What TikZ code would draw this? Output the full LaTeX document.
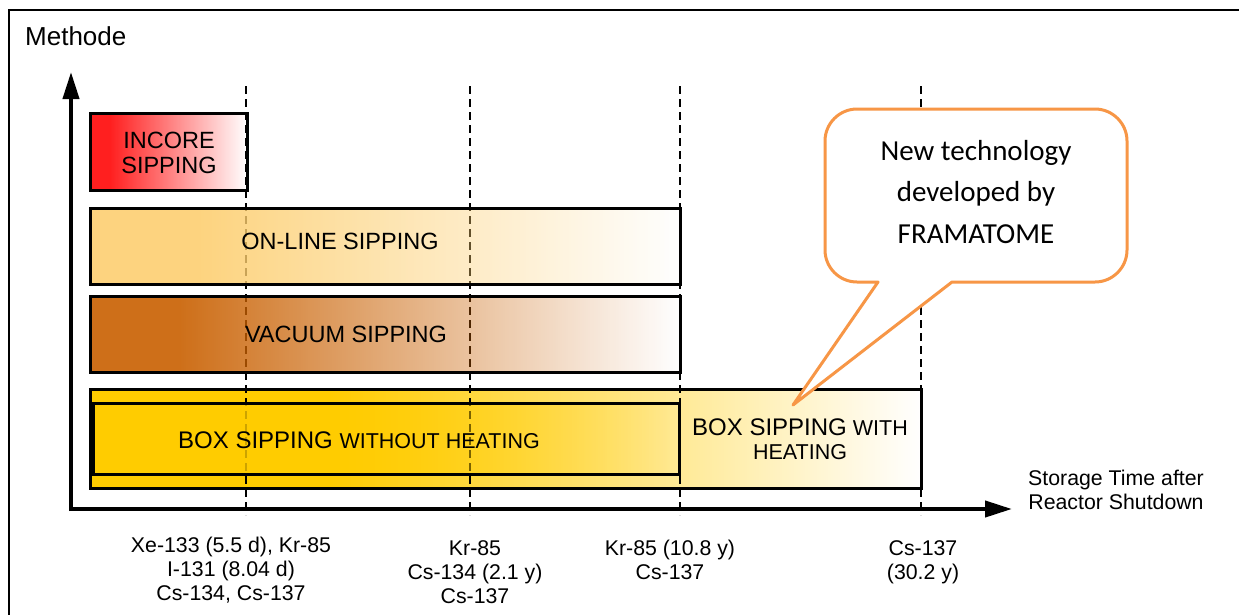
\documentclass[tikz,border=0pt]{standalone}
\usepackage{fontspec}
\setmainfont{Liberation Sans}
\newfontfamily\calloutfont{Carlito}
\usetikzlibrary{arrows.meta,fadings}
\definecolor{incred}{HTML}{FF0000}
\definecolor{onl}{HTML}{FDCE6E}
\definecolor{vac}{HTML}{C96000}
\definecolor{boxgold}{HTML}{FFCC00}
\definecolor{callor}{HTML}{F79646}
\tikzset{
  boxline/.style={draw=black, line width=3pt},
  timeline/.style={black, line width=1.5pt, dash pattern=on 8pt off 5pt},
  axisline/.style={line width=4pt, -{Triangle[length=27pt,width=16pt]}},
  lbl/.style={font=\fontsize{23.5}{25}\selectfont, inner sep=0pt, align=center},
  smalllbl/.style={font=\fontsize{21.3}{24}\selectfont, inner sep=0pt, align=center},
  callout/.style={draw=callor, line width=3pt, fill=white, line join=round}
}
\begin{document}
\begin{tikzpicture}[x=1pt,y=-1pt]
\useasboundingbox (0,0) rectangle (1239,614);
\clip (0,0) rectangle (1239,614);
\fill[white] (0,0) rectangle (1239,614);
\draw[line width=2pt] (9,10) rectangle (1260,640);

% outer box sipping fill (under the time lines)
\fill[boxgold] (90,388) rectangle (331,489);
\fill[boxgold, path fading=east] (330,388) rectangle (921,489);

% time lines
\foreach \n/\x in {a/246,b/470,c/680,d/921}{
  \coordinate (t\n top) at (\x,86);
  \coordinate (t\n bot) at (\x,515);
  \draw[timeline] (t\n top) -- (t\n bot);
}

% incore
\begin{scope}[transparency group, opacity=0.88]
\fill[incred] (90,113) rectangle (111,190);
\fill[incred, path fading=east] (110,113) rectangle (247,190);
\end{scope}
% on-line
\begin{scope}[transparency group, opacity=0.88]
\fill[onl] (90,208) rectangle (201,284);
\fill[onl, path fading=east] (200,208) rectangle (680,284);
\end{scope}
% vacuum
\begin{scope}[transparency group, opacity=0.9]
\fill[vac] (90,296) rectangle (181,372);
\fill[vac, path fading=east] (180,296) rectangle (680,372);
\end{scope}
% inner box
\begin{scope}[transparency group, opacity=0.8]
\fill[boxgold] (92,403) rectangle (331,474);
\fill[boxgold, path fading=east] (330,403) rectangle (680,474);
\end{scope}

% borders
\draw[boxline] (90,113) rectangle (247,190);
\draw[boxline] (90,208) rectangle (680,284);
\draw[boxline] (90,296) rectangle (680,372);
\draw[boxline] (90,389) rectangle (921,488);
\draw[boxline] (93,403) rectangle (679,474);

% axes
\coordinate (ybot) at (71,511);
\coordinate (ytop) at (71,72);
\coordinate (xleft) at (69,509);
\coordinate (xright) at (1012,509);
\draw[axisline] (ybot) -- (ytop);
\draw[axisline] (xleft) -- (xright);

% texts (anchor=base of a multi-line node is the baseline of its last line)
\node[font=\fontsize{26}{30}\selectfont, anchor=base west, inner sep=0pt] (methode) at (25,45) {Methode};
\node[lbl, anchor=base] (incore) at (169,173) {INCORE\\SIPPING};
\node[lbl, anchor=base] (online) at (340,249) {ON-LINE SIPPING};
\node[lbl, anchor=base] (vacuum) at (346,342) {VACUUM SIPPING};
\node[anchor=base, inner sep=0pt] (boxwo) at (359,448) {\fontsize{24}{28}\selectfont BOX SIPPING \fontsize{21.5}{28}\selectfont WITHOUT HEATING};
\node[anchor=base, inner sep=0pt, align=center, font=\fontsize{21.5}{24}\selectfont] (boxw) at (800,459) {{\fontsize{24}{24}\selectfont BOX SIPPING} WITH\\HEATING};

\node[smalllbl, anchor=base] (iso1) at (231,600) {Xe-133 (5.5 d), Kr-85\\I-131 (8.04 d)\\Cs-134, Cs-137};
\node[smalllbl, anchor=base] (iso2) at (475,603) {Kr-85\\Cs-134 (2.1 y)\\Cs-137};
\node[smalllbl, anchor=base] (iso3) at (670,579) {Kr-85 (10.8 y)\\Cs-137};
\node[smalllbl, anchor=base] (iso4) at (923,579) {Cs-137\\(30.2 y)};
\node[smalllbl, anchor=base] (storage) at (1116,509) {Storage Time after\\Reactor Shutdown};

% callout
\draw[callout] (878,282) -- (793,405) -- (952,282) -- (1095,282)
  .. controls (1112.6,282) and (1127,267.6) .. (1127,250) -- (1127,141)
  .. controls (1127,123.4) and (1112.6,109) .. (1095,109) -- (857,109)
  .. controls (839.4,109) and (825,123.4) .. (825,141) -- (825,250)
  .. controls (825,267.6) and (839.4,282) .. (857,282) -- cycle;
\node[inner sep=0pt, align=center, anchor=base, font=\calloutfont\fontsize{29}{41.5}\selectfont] (newtech) at (976,243) {New technology\\developed by\\FRAMATOME};
\end{tikzpicture}
\end{document}
